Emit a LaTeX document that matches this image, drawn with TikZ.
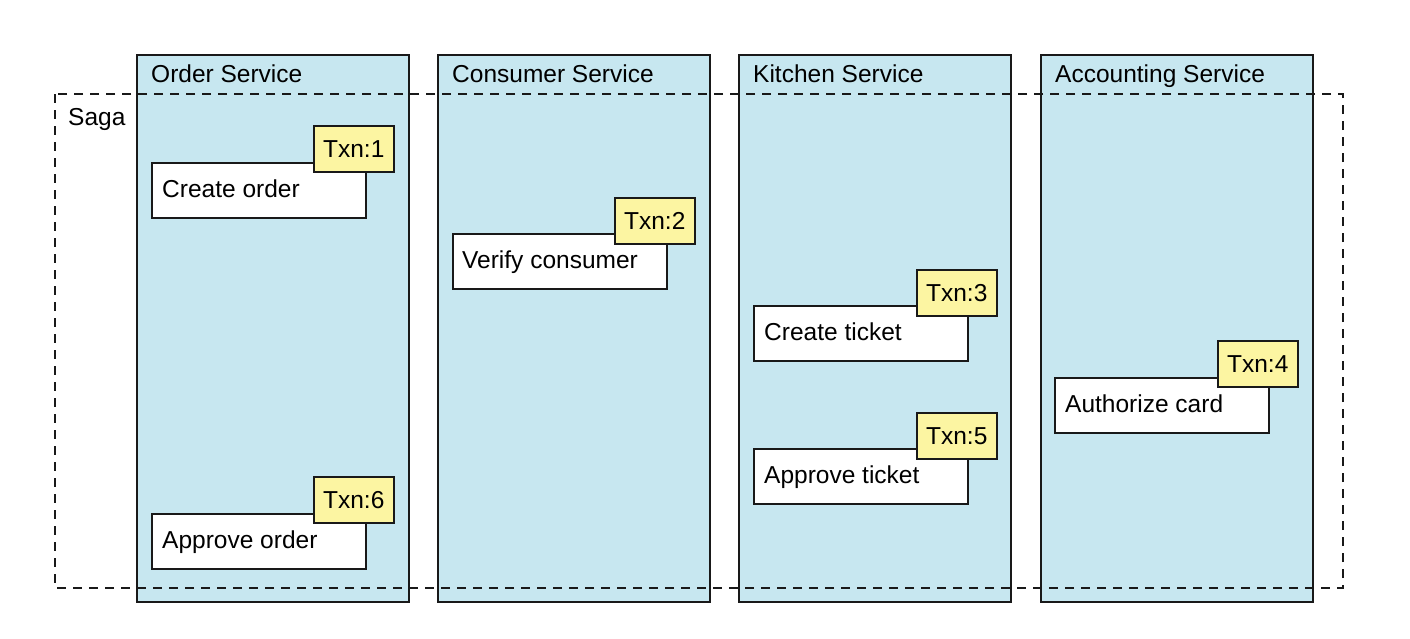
\documentclass[tikz,border=0pt]{standalone}
\usepackage{fontspec}
\setmainfont{Liberation Sans}
\begin{document}
\begin{tikzpicture}[x=1pt,y=-1pt,
  svc/.style={draw=black!90,line width=1.5pt,fill=svcblue,anchor=north west,inner sep=0pt},
  step box/.style={draw=black!90,line width=1.5pt,fill=white,anchor=north west,minimum width=214pt,minimum height=55pt,inner sep=0pt},
  txn/.style={draw=black!90,line width=1.5pt,fill=txnyellow,anchor=north west,minimum width=80pt,minimum height=46pt,inner sep=0pt,font=\fontsize{24.5}{28}\selectfont},
  lbl/.style={anchor=base west,inner sep=0pt,font=\fontsize{24.5}{28}\selectfont},
  saga/.style={draw=black!90,line width=1.5pt,dash pattern=on 9pt off 7pt}]
\definecolor{svcblue}{HTML}{C7E7F0}
\definecolor{txnyellow}{HTML}{FCF5A2}
\useasboundingbox (0,0) rectangle (1410,638);
% services
\foreach \n/\x in {os/136,cs/437,ks/738,as/1040}{
  \node[svc,minimum width=272pt,minimum height=547pt] (\n) at (\x,54) {};
}
\node[lbl] (ost) at (151,82.5) {Order Service};
\node[lbl] (cst) at (452,82.5) {Consumer Service};
\node[lbl] (kst) at (753,82.5) {Kitchen Service};
\node[lbl] (ast) at (1055,82.5) {Accounting Service};
% steps
\node[step box] (s1) at (151,162) {};
\node[lbl] (s1t) at (162,197.5) {Create order};
\node[txn] (t1) at (313,125) {Txn:1};
\node[step box] (s2) at (452,233) {};
\node[lbl] (s2t) at (462,268.5) {Verify consumer};
\node[txn] (t2) at (614,197) {Txn:2};
\node[step box] (s3) at (753,305) {};
\node[lbl] (s3t) at (764,340.5) {Create ticket};
\node[txn] (t3) at (916,269) {Txn:3};
\node[step box] (s5) at (753,448) {};
\node[lbl] (s5t) at (764,483.5) {Approve ticket};
\node[txn] (t5) at (916,412) {Txn:5};
\node[step box] (s4) at (1054,377) {};
\node[lbl] (s4t) at (1065,412.5) {Authorize card};
\node[txn] (t4) at (1217,340) {Txn:4};
\node[step box] (s6) at (151,513) {};
\node[lbl] (s6t) at (162,548.5) {Approve order};
\node[txn] (t6) at (313,476) {Txn:6};
% saga
\coordinate (sagaA) at (55,94);
\coordinate (sagaB) at (1343,588);
\draw[saga] (sagaA) rectangle (sagaB);
\node[lbl] (sagat) at (68,125) {Saga};
\end{tikzpicture}
\end{document}
